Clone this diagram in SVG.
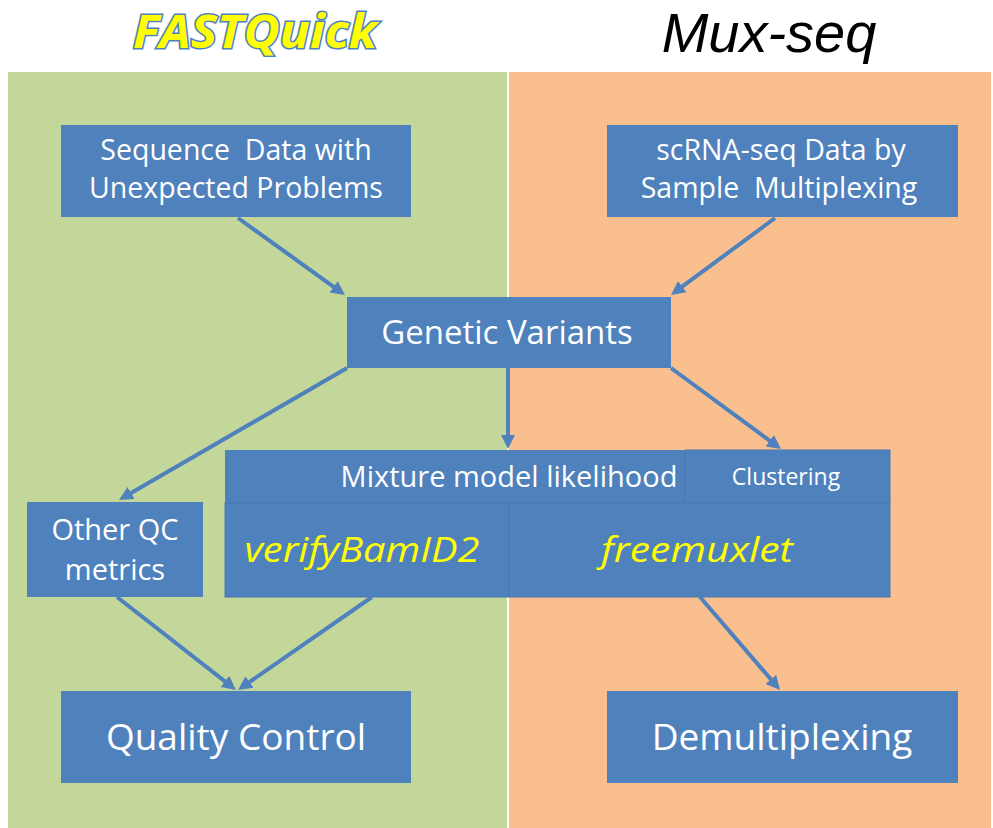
<svg xmlns="http://www.w3.org/2000/svg" width="993" height="828" viewBox="0 0 993 828">
<defs>
<marker id="ah" markerUnits="userSpaceOnUse" markerWidth="16" markerHeight="16" viewBox="0 -8 16 16" refX="6" refY="0" orient="auto">
<path d="M0,-7 L14,0 L0,7 Z" fill="#4F81BD"/>
</marker>
<style>
.box{fill:#4F81BD;}
.sub{fill:#4F81BD;stroke:#4A79B2;stroke-width:1;}
.t{font-family:"Open Sans","Noto Sans",sans-serif;fill:#FFFFFF;text-anchor:middle;}
.y{font-family:"Open Sans","Noto Sans",sans-serif;fill:#FFFF00;text-anchor:middle;font-style:italic;}
.c{stroke:#4F81BD;stroke-width:4;fill:none;marker-end:url(#ah);}
</style>
</defs>
<rect x="0" y="0" width="993" height="828" fill="#FFFFFF"/>
<rect x="8" y="72" width="499" height="756" fill="#C4D79B"/>
<rect x="509" y="72" width="482" height="756" fill="#F9BF8F"/>
<text x="255" y="48" font-family="'Open Sans','Noto Sans',sans-serif" font-size="46" font-weight="bold" font-style="italic" fill="#FFFF00" stroke="#4F81BD" stroke-width="3" paint-order="stroke" text-anchor="middle" textLength="244" lengthAdjust="spacingAndGlyphs">FASTQuick</text>
<text x="769" y="52" font-family="'Liberation Sans',Arial,sans-serif" font-size="56" font-style="italic" fill="#000000" text-anchor="middle">Mux-seq</text>
<g id="connectors">
<line class="c" x1="238" y1="218" x2="338.5" y2="290.3"/>
<line class="c" x1="775" y1="218" x2="677.4" y2="290.2"/>
<line class="c" x1="347" y1="368" x2="125.9" y2="496"/>
<line class="c" x1="508" y1="368" x2="508" y2="441"/>
<line class="c" x1="671" y1="368" x2="774.6" y2="444.3"/>
<line class="c" x1="117" y1="597" x2="229.7" y2="685.1"/>
<line class="c" x1="372" y1="597" x2="244.6" y2="685.4"/>
<line class="c" x1="700" y1="597" x2="774.8" y2="683.9"/>
</g>
<g id="seq-data">
<rect class="box" x="61" y="125" width="350" height="92"/>
<text class="t" x="236" y="160" font-size="28.5" xml:space="preserve">Sequence  Data with</text>
<text class="t" x="236" y="198" font-size="28.5">Unexpected Problems</text>
</g>
<g id="scrna-data">
<rect class="box" x="607" y="125" width="351" height="92"/>
<text class="t" x="781" y="160" font-size="28.5">scRNA-seq Data by</text>
<text class="t" x="779" y="198" font-size="28.5" xml:space="preserve">Sample  Multiplexing</text>
</g>
<g id="genetic-variants">
<rect class="box" x="347" y="297" width="324" height="71"/>
<text class="t" x="507" y="344" font-size="33">Genetic Variants</text>
</g>
<g id="mixture-model">
<rect class="box" x="225" y="450" width="665" height="147"/>
<text class="t" x="509" y="487" font-size="29">Mixture model likelihood</text>
</g>
<g id="clustering">
<rect class="sub" x="685" y="450" width="205" height="53"/>
<text class="t" x="786" y="485" font-size="23">Clustering</text>
</g>
<g id="verifybamid2">
<rect class="sub" x="225" y="503" width="284" height="94"/>
<text class="y" x="362" y="562" font-size="34" textLength="235" lengthAdjust="spacingAndGlyphs">verifyBamID2</text>
</g>
<g id="freemuxlet">
<rect class="sub" x="509" y="503" width="381" height="94"/>
<text class="y" x="697" y="562" font-size="34" textLength="192" lengthAdjust="spacingAndGlyphs">freemuxlet</text>
</g>
<g id="other-qc">
<rect class="box" x="27" y="502" width="176" height="95"/>
<text class="t" x="115" y="540" font-size="29">Other QC</text>
<text class="t" x="115" y="580" font-size="29">metrics</text>
</g>
<g id="quality-control">
<rect class="box" x="61" y="691" width="350" height="92"/>
<text class="t" x="236" y="750" font-size="37">Quality Control</text>
</g>
<g id="demultiplexing">
<rect class="box" x="607" y="691" width="351" height="92"/>
<text class="t" x="782" y="750" font-size="37">Demultiplexing</text>
</g>
</svg>
